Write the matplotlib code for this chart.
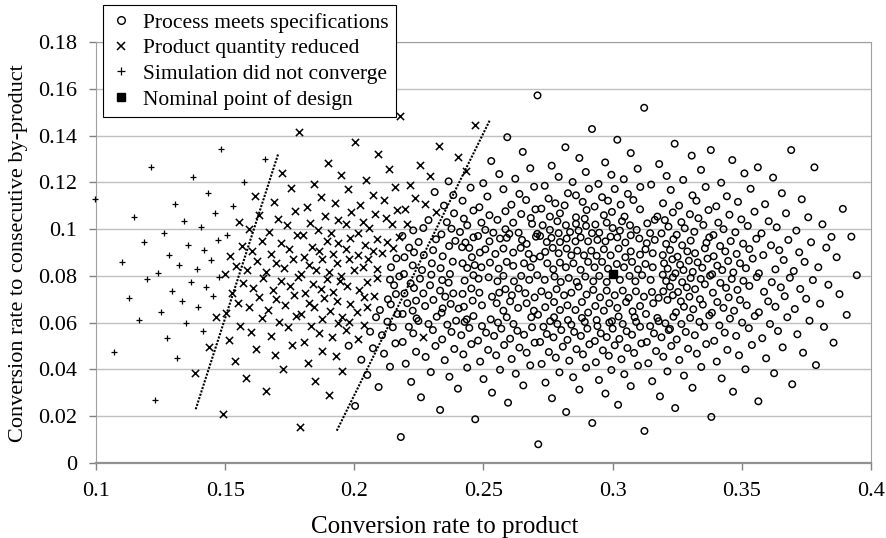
import matplotlib
matplotlib.use("Agg")
import matplotlib.pyplot as plt
from matplotlib.lines import Line2D
from matplotlib.ticker import FuncFormatter, MultipleLocator

# points, (conversion to product, conversion to by-product)
meets_spec = [
    (0.2709, 0.1573), (0.3122, 0.1520), (0.2920, 0.1429), (0.2592, 0.1394), (0.3018, 0.1383), (0.2817, 0.1351),
    (0.2652, 0.1331), (0.3070, 0.1326), (0.2871, 0.1305), (0.2530, 0.1292), (0.2971, 0.1286), (0.3180, 0.1279),
    (0.2764, 0.1272), (0.2681, 0.1261), (0.2896, 0.1245), (0.2561, 0.1236), (0.3097, 0.1259), (0.2791, 0.1224),
    (0.2995, 0.1233), (0.3209, 0.1228), (0.2623, 0.1216), (0.3043, 0.1214), (0.2845, 0.1202), (0.2499, 0.1197),
    (0.2696, 0.1182), (0.2737, 0.1186), (0.2945, 0.1194), (0.3149, 0.1191), (0.2450, 0.1178), (0.3107, 0.1181),
    (0.2908, 0.1173), (0.2577, 0.1171), (0.3008, 0.1172), (0.2365, 0.1205),
    (0.3240, 0.1366), (0.3380, 0.1339), (0.3691, 0.1339), (0.3306, 0.1315), (0.3463, 0.1296), (0.3342, 0.1254),
    (0.3781, 0.1265), (0.3562, 0.1265), (0.3510, 0.1239), (0.3273, 0.1211), (0.3621, 0.1221), (0.3420, 0.1199),
    (0.3360, 0.1181), (0.3534, 0.1173), (0.3225, 0.1168),
    (0.3891, 0.1087), (0.3732, 0.1128), (0.3655, 0.1154), (0.3309, 0.1145), (0.3324, 0.1122), (0.3442, 0.1141),
    (0.3485, 0.1117), (0.3590, 0.1107), (0.3195, 0.1111), (0.3257, 0.1101), (0.3371, 0.1082), (0.3671, 0.1068),
    (0.3757, 0.1051), (0.3812, 0.1021), (0.3924, 0.0968), (0.3847, 0.0967), (0.3549, 0.1075), (0.3452, 0.1062),
    (0.3401, 0.1098), (0.3233, 0.1072), (0.3299, 0.1064), (0.3332, 0.1047), (0.3498, 0.1042), (0.3604, 0.1034),
    (0.3202, 0.1039), (0.3266, 0.1030), (0.3351, 0.1018), (0.3409, 0.1028), (0.3523, 0.1014), (0.3635, 0.1008),
    (0.3711, 0.0994), (0.3216, 0.1011), (0.3279, 0.1004), (0.3429, 0.1000), (0.3316, 0.0989), (0.3475, 0.0987),
    (0.3576, 0.0982), (0.3189, 0.0982), (0.3248, 0.0976), (0.3374, 0.0965), (0.3390, 0.0975), (0.3556, 0.0959),
    (0.3680, 0.0954), (0.3768, 0.0944), (0.3235, 0.0957), (0.3302, 0.0951), (0.3457, 0.0949), (0.3363, 0.0942),
    (0.3505, 0.0938), (0.3207, 0.0937), (0.3269, 0.0931), (0.3416, 0.0928), (0.3613, 0.0931), (0.3827, 0.0921),
    (0.3357, 0.0918), (0.3529, 0.0915), (0.3645, 0.0910), (0.3222, 0.0911), (0.3289, 0.0905), (0.3436, 0.0905),
    (0.3722, 0.0901), (0.3319, 0.0897), (0.3480, 0.0894), (0.3583, 0.0889), (0.3194, 0.0889), (0.3251, 0.0882),
    (0.3391, 0.0884), (0.3867, 0.0880), (0.3367, 0.0874), (0.3542, 0.0874), (0.3662, 0.0868), (0.3743, 0.0860),
    (0.3231, 0.0871), (0.3295, 0.0865), (0.3447, 0.0864), (0.3329, 0.0858), (0.3493, 0.0854), (0.3199, 0.0854),
    (0.3261, 0.0848), (0.3347, 0.0835), (0.3405, 0.0844), (0.3516, 0.0833), (0.3630, 0.0828), (0.3796, 0.0837),
    (0.3701, 0.0821), (0.3213, 0.0831), (0.3274, 0.0825), (0.3310, 0.0817), (0.3424, 0.0825), (0.3467, 0.0815),
    (0.3243, 0.0811), (0.3377, 0.0801), (0.3385, 0.0807), (0.3566, 0.0811), (0.3945, 0.0803), (0.3194, 0.0805),
    (0.3341, 0.0787), (0.3461, 0.0787), (0.3558, 0.0795), (0.3686, 0.0792), (0.3775, 0.0782), (0.3233, 0.0794),
    (0.3302, 0.0791), (0.3207, 0.0778), (0.3269, 0.0773), (0.3417, 0.0770), (0.3506, 0.0779), (0.3616, 0.0773),
    (0.3835, 0.0762), (0.3357, 0.0764), (0.3439, 0.0749), (0.3529, 0.0757), (0.3651, 0.0751), (0.3726, 0.0744),
    (0.3222, 0.0754), (0.3287, 0.0751), (0.3319, 0.0743), (0.3483, 0.0740), (0.3878, 0.0722), (0.3196, 0.0734),
    (0.3253, 0.0731), (0.3388, 0.0728), (0.3586, 0.0732), (0.3666, 0.0713), (0.3749, 0.0702), (0.3297, 0.0711),
    (0.3449, 0.0708), (0.3493, 0.0697), (0.3233, 0.0717), (0.3338, 0.0700), (0.3212, 0.0697), (0.3264, 0.0691),
    (0.3405, 0.0688), (0.3602, 0.0691), (0.3803, 0.0681), (0.3349, 0.0677), (0.3519, 0.0674), (0.3630, 0.0668),
    (0.3705, 0.0658), (0.3276, 0.0668), (0.3429, 0.0663), (0.3312, 0.0657), (0.3470, 0.0651), (0.3566, 0.0644),
    (0.3245, 0.0644), (0.3384, 0.0642), (0.3374, 0.0631), (0.3676, 0.0623), (0.3906, 0.0633), (0.3235, 0.0625),
    (0.3300, 0.0620), (0.3454, 0.0617), (0.3550, 0.0628), (0.3762, 0.0608), (0.3336, 0.0603), (0.3204, 0.0597),
    (0.3266, 0.0594), (0.3413, 0.0588), (0.3501, 0.0600), (0.3609, 0.0594), (0.3818, 0.0582), (0.3354, 0.0582),
    (0.3527, 0.0576), (0.3222, 0.0573),
    (0.3217, 0.0568), (0.3283, 0.0560), (0.3318, 0.0546), (0.3434, 0.0557), (0.3640, 0.0564), (0.3189, 0.0537),
    (0.3248, 0.0528), (0.3393, 0.0522), (0.3362, 0.0508), (0.3478, 0.0543), (0.3579, 0.0533), (0.3715, 0.0550),
    (0.3855, 0.0514), (0.3227, 0.0500), (0.3292, 0.0488), (0.3326, 0.0467), (0.3444, 0.0483), (0.3539, 0.0504),
    (0.3658, 0.0494), (0.3489, 0.0460), (0.3196, 0.0454), (0.3258, 0.0440), (0.3403, 0.0433), (0.3594, 0.0447),
    (0.3737, 0.0471), (0.3343, 0.0410), (0.3212, 0.0391), (0.3514, 0.0400), (0.3787, 0.0418), (0.3276, 0.0373),
    (0.3625, 0.0383), (0.3422, 0.0361), (0.3695, 0.0336), (0.3309, 0.0321), (0.3466, 0.0304), (0.3183, 0.0284),
    (0.3564, 0.0263), (0.3242, 0.0234), (0.3382, 0.0196),
    (0.2468, 0.0186), (0.2712, 0.0079), (0.2820, 0.0217), (0.2921, 0.0170), (0.3123, 0.0136), (0.2595, 0.0257),
    (0.3021, 0.0248), (0.2533, 0.0300), (0.2765, 0.0276), (0.2972, 0.0296), (0.2654, 0.0331), (0.2871, 0.0313),
    (0.3070, 0.0328), (0.2740, 0.0343), (0.2500, 0.0358), (0.2947, 0.0354), (0.3153, 0.0349), (0.2847, 0.0366),
    (0.3045, 0.0379), (0.2625, 0.0381), (0.2794, 0.0387), (0.2564, 0.0398), (0.2995, 0.0397), (0.2437, 0.0407),
    (0.2897, 0.0407), (0.2681, 0.0417), (0.2725, 0.0423), (0.3098, 0.0416), (0.3138, 0.0426), (0.2487, 0.0433),
    (0.2609, 0.0444), (0.2832, 0.0437), (0.2935, 0.0430), (0.3034, 0.0443), (0.2422, 0.0464), (0.2549, 0.0460),
    (0.2667, 0.0471), (0.2753, 0.0474), (0.2780, 0.0450), (0.2885, 0.0464), (0.2985, 0.0458), (0.3083, 0.0470),
    (0.3168, 0.0478), (0.2453, 0.0508), (0.2518, 0.0483), (0.2580, 0.0504), (0.2639, 0.0493), (0.2698, 0.0514),
    (0.2719, 0.0517), (0.2807, 0.0497), (0.2860, 0.0486), (0.2910, 0.0507), (0.2931, 0.0521), (0.2962, 0.0481),
    (0.3008, 0.0503), (0.3057, 0.0491), (0.3111, 0.0511), (0.3132, 0.0517), (0.2479, 0.0523), (0.2603, 0.0531),
    (0.2825, 0.0526), (0.3026, 0.0530), (0.2414, 0.0546), (0.2541, 0.0543), (0.2657, 0.0548), (0.2771, 0.0537),
    (0.2877, 0.0543), (0.2977, 0.0538), (0.3075, 0.0548), (0.2510, 0.0557), (0.2631, 0.0565), (0.2745, 0.0551),
    (0.2851, 0.0560), (0.2954, 0.0554), (0.3054, 0.0563), (0.3160, 0.0554), (0.2445, 0.0577), (0.2494, 0.0585),
    (0.2569, 0.0574), (0.2688, 0.0580), (0.2732, 0.0582), (0.2801, 0.0568), (0.2902, 0.0574), (0.2941, 0.0585),
    (0.3000, 0.0574), (0.3106, 0.0582), (0.3145, 0.0585), (0.2427, 0.0603), (0.2556, 0.0600), (0.2616, 0.0594),
    (0.2758, 0.0606), (0.2786, 0.0594), (0.2840, 0.0591), (0.2892, 0.0603), (0.2987, 0.0600), (0.3039, 0.0594),
    (0.3091, 0.0603), (0.3178, 0.0606),
    (0.2180, 0.0110), (0.2003, 0.0243), (0.2332, 0.0226), (0.2094, 0.0324), (0.2258, 0.0280), (0.2401, 0.0317),
    (0.2050, 0.0376), (0.2220, 0.0346), (0.2368, 0.0368), (0.2138, 0.0411), (0.2296, 0.0388), (0.2199, 0.0424),
    (0.2350, 0.0439), (0.2027, 0.0441), (0.2115, 0.0467), (0.2239, 0.0475), (0.2276, 0.0453), (0.2387, 0.0487),
    (0.1978, 0.0501), (0.2072, 0.0490), (0.2159, 0.0511), (0.2187, 0.0517), (0.2314, 0.0500), (0.2228, 0.0554),
    (0.2107, 0.0546), (0.2061, 0.0561), (0.2340, 0.0528), (0.2304, 0.0568), (0.2376, 0.0560), (0.2149, 0.0580),
    (0.2211, 0.0582), (0.2287, 0.0594), (0.2360, 0.0591), (0.2128, 0.0604), (0.2248, 0.0607), (0.2394, 0.0608),
    (0.2311, 0.1159), (0.2383, 0.1146), (0.2347, 0.1101), (0.2386, 0.1068), (0.2287, 0.1039), (0.2358, 0.1030),
    (0.2376, 0.1002), (0.2228, 0.0995), (0.2267, 0.1005), (0.2186, 0.0971), (0.2337, 0.0978), (0.2316, 0.0957),
    (0.2249, 0.0945), (0.2391, 0.0950), (0.2367, 0.0928), (0.2212, 0.0921), (0.2231, 0.0901), (0.2305, 0.0910),
    (0.2269, 0.0889), (0.2342, 0.0884), (0.2163, 0.0875), (0.2194, 0.0880), (0.2381, 0.0861), (0.2300, 0.0854),
    (0.2142, 0.0837), (0.2226, 0.0845), (0.2262, 0.0825), (0.2334, 0.0833), (0.2192, 0.0808), (0.2370, 0.0808),
    (0.2174, 0.0798), (0.2298, 0.0805), (0.2138, 0.0784), (0.2254, 0.0788), (0.2340, 0.0782), (0.2218, 0.0768),
    (0.2154, 0.0760), (0.2293, 0.0760), (0.2365, 0.0771), (0.2231, 0.0748), (0.2332, 0.0737), (0.2194, 0.0725),
    (0.2267, 0.0725), (0.2383, 0.0725), (0.2161, 0.0722), (0.2352, 0.0711), (0.2130, 0.0700), (0.2239, 0.0694),
    (0.2306, 0.0697), (0.2205, 0.0683), (0.2373, 0.0680), (0.2099, 0.0654), (0.2274, 0.0671), (0.2342, 0.0661),
    (0.2141, 0.0678), (0.2404, 0.0660), (0.2167, 0.0637), (0.2187, 0.0637), (0.2226, 0.0651), (0.2319, 0.0625),
    (0.2338, 0.0642), (0.2241, 0.0618), (0.2084, 0.0623),
    (0.2639, 0.1151), (0.2419, 0.1122), (0.2515, 0.1140), (0.2608, 0.1105), (0.2665, 0.1125), (0.2752, 0.1131),
    (0.2778, 0.1111), (0.2827, 0.1154), (0.2858, 0.1145), (0.2884, 0.1117), (0.2959, 0.1137), (0.2982, 0.1122),
    (0.3031, 0.1105), (0.3059, 0.1151), (0.3080, 0.1125), (0.2484, 0.1094),
    (0.2461, 0.1080), (0.2585, 0.1077), (0.2646, 0.1065), (0.2701, 0.1085), (0.2724, 0.1088), (0.2757, 0.1054),
    (0.2796, 0.1068), (0.2814, 0.1102), (0.2899, 0.1082), (0.2930, 0.1097), (0.2966, 0.1060), (0.2997, 0.1074),
    (0.3046, 0.1054), (0.3173, 0.1054), (0.2424, 0.1045), (0.2523, 0.1060), (0.2554, 0.1040), (0.2683, 0.1048),
    (0.2858, 0.1051), (0.2892, 0.1045), (0.3106, 0.1085),
    (0.2437, 0.1017), (0.2492, 0.1028), (0.2585, 0.1000), (0.2615, 0.1028), (0.2688, 0.1023), (0.2729, 0.1017),
    (0.2786, 0.1034), (0.2819, 0.1017), (0.2858, 0.1023), (0.2897, 0.1014), (0.2933, 0.1020), (0.2977, 0.1028),
    (0.3000, 0.1005), (0.3036, 0.1034), (0.3067, 0.1017), (0.3134, 0.1025), (0.3163, 0.1040), (0.2409, 0.0988),
    (0.2507, 0.0997), (0.2538, 0.0985), (0.2636, 0.0985), (0.2708, 0.0980), (0.2757, 0.0997), (0.2791, 0.0983),
    (0.2835, 0.0988), (0.2868, 0.0994), (0.2920, 0.0983), (0.2948, 0.0985), (0.3028, 0.0994), (0.3093, 0.0997),
    (0.3145, 0.0983),
    (0.2430, 0.0943), (0.2461, 0.0965), (0.2479, 0.0971), (0.2523, 0.0948), (0.2564, 0.0960), (0.2590, 0.0963),
    (0.2600, 0.0980), (0.2649, 0.0954), (0.2667, 0.0937), (0.2703, 0.0968), (0.2719, 0.0971), (0.2745, 0.0945),
    (0.2763, 0.0963), (0.2796, 0.0945), (0.2822, 0.0960), (0.2856, 0.0948), (0.2876, 0.0965), (0.2905, 0.0948),
    (0.2941, 0.0954), (0.2972, 0.0948), (0.2992, 0.0968), (0.3018, 0.0965), (0.3049, 0.0943), (0.3070, 0.0974),
    (0.3103, 0.0960), (0.3132, 0.0940), (0.3163, 0.0954),
    (0.2417, 0.0923), (0.2445, 0.0920), (0.2455, 0.0880), (0.2486, 0.0900), (0.2507, 0.0914), (0.2546, 0.0894),
    (0.2577, 0.0917), (0.2615, 0.0900), (0.2644, 0.0920), (0.2675, 0.0894), (0.2693, 0.0874), (0.2719, 0.0883),
    (0.2739, 0.0903), (0.2768, 0.0920), (0.2791, 0.0897), (0.2822, 0.0917), (0.2840, 0.0888), (0.2863, 0.0908),
    (0.2889, 0.0888), (0.2917, 0.0908), (0.2938, 0.0886), (0.2966, 0.0914), (0.2992, 0.0888), (0.3023, 0.0917),
    (0.3049, 0.0880), (0.3070, 0.0905), (0.3106, 0.0891), (0.3127, 0.0914), (0.3155, 0.0897),
    (0.2419, 0.0854), (0.2437, 0.0834), (0.2466, 0.0846), (0.2492, 0.0837), (0.2525, 0.0857), (0.2559, 0.0831),
    (0.2590, 0.0860), (0.2615, 0.0843), (0.2657, 0.0854), (0.2683, 0.0837), (0.2747, 0.0854), (0.2770, 0.0828),
    (0.2796, 0.0857), (0.2819, 0.0837), (0.2848, 0.0854), (0.2876, 0.0826), (0.2905, 0.0860), (0.2930, 0.0837),
    (0.2959, 0.0860), (0.2982, 0.0831), (0.3016, 0.0851), (0.3044, 0.0837), (0.3075, 0.0860), (0.3098, 0.0828),
    (0.3127, 0.0851), (0.3155, 0.0837),
    (0.2427, 0.0780), (0.2461, 0.0803), (0.2481, 0.0788), (0.2520, 0.0794), (0.2554, 0.0777), (0.2577, 0.0800),
    (0.2618, 0.0777), (0.2646, 0.0800), (0.2677, 0.0783), (0.2708, 0.0803), (0.2737, 0.0783), (0.2775, 0.0797),
    (0.2799, 0.0774), (0.2830, 0.0791), (0.2861, 0.0774), (0.2894, 0.0797), (0.2925, 0.0777), (0.2948, 0.0800),
    (0.2977, 0.0774), (0.3028, 0.0783), (0.3065, 0.0800), (0.3088, 0.0777), (0.3114, 0.0803), (0.3147, 0.0783),
    (0.2419, 0.0723), (0.2453, 0.0746), (0.2484, 0.0728), (0.2533, 0.0711), (0.2561, 0.0728), (0.2585, 0.0743),
    (0.2610, 0.0717), (0.2636, 0.0746), (0.2662, 0.0726), (0.2698, 0.0708), (0.2724, 0.0734), (0.2752, 0.0717),
    (0.2783, 0.0743), (0.2812, 0.0717), (0.2840, 0.0728), (0.2868, 0.0754), (0.2899, 0.0720), (0.2925, 0.0740),
    (0.2951, 0.0708), (0.2977, 0.0737), (0.3008, 0.0717), (0.3039, 0.0737), (0.3062, 0.0706), (0.3090, 0.0734),
    (0.3121, 0.0711), (0.3152, 0.0731), (0.3178, 0.0706),
    (0.2424, 0.0668), (0.2458, 0.0694), (0.2494, 0.0674), (0.2551, 0.0683), (0.2577, 0.0651), (0.2603, 0.0691),
    (0.2634, 0.0663), (0.2667, 0.0683), (0.2695, 0.0651), (0.2739, 0.0666), (0.2773, 0.0688), (0.2796, 0.0654),
    (0.2825, 0.0674), (0.2856, 0.0654), (0.2881, 0.0688), (0.2905, 0.0643), (0.2933, 0.0671), (0.2966, 0.0651),
    (0.2987, 0.0683), (0.3018, 0.0663), (0.3052, 0.0688), (0.3077, 0.0648), (0.3106, 0.0671), (0.3129, 0.0637),
    (0.3157, 0.0683),
    (0.2435, 0.0614), (0.2461, 0.0628), (0.2528, 0.0614), (0.2590, 0.0623), (0.2685, 0.0623), (0.2711, 0.0634),
    (0.2773, 0.0623), (0.2827, 0.0611), (0.2881, 0.0620), (0.2938, 0.0611), (0.2997, 0.0606), (0.3023, 0.0626),
    (0.3085, 0.0623), (0.3173, 0.0620),
]

qty_reduced = [
    (0.2177, 0.1486), (0.1786, 0.1415), (0.2002, 0.1375), (0.2329, 0.1358), (0.2092, 0.1321), (0.1899, 0.1284),
    (0.1721, 0.1242), (0.2134, 0.1256), (0.2256, 0.1276), (0.2401, 0.1308), (0.2432, 0.1248), (0.1950, 0.1232),
    (0.2293, 0.1227), (0.2046, 0.1211), (0.1844, 0.1194), (0.2217, 0.1191), (0.1754, 0.1176), (0.2156, 0.1179),
    (0.1977, 0.1171), (0.2466, 0.1445),
    (0.1872, 0.1137), (0.1689, 0.1118), (0.2071, 0.1148), (0.2115, 0.1125), (0.2236, 0.1134), (0.1926, 0.1114),
    (0.2274, 0.1109), (0.1816, 0.1094), (0.2022, 0.1102), (0.1772, 0.1078), (0.1987, 0.1075), (0.2167, 0.1084),
    (0.2198, 0.1088), (0.2081, 0.1065), (0.2317, 0.1072), (0.1887, 0.1058), (0.1706, 0.1045), (0.1938, 0.1041),
    (0.2123, 0.1049), (0.2035, 0.1032), (0.1738, 0.1017), (0.1830, 0.1025), (0.2146, 0.1021), (0.2203, 0.1024),
    (0.1969, 0.1021), (0.2058, 0.1004), (0.1860, 0.0997), (0.1671, 0.0988), (0.1909, 0.0982), (0.2013, 0.0982),
    (0.1778, 0.0974), (0.1800, 0.0975), (0.1985, 0.0961), (0.2172, 0.0965), (0.2087, 0.0957), (0.1643, 0.0951),
    (0.1893, 0.0948), (0.1938, 0.0942), (0.1715, 0.0941), (0.2127, 0.0945), (0.1748, 0.0916), (0.1837, 0.0925),
    (0.2043, 0.0931), (0.1864, 0.0905), (0.1968, 0.0914), (0.2151, 0.0919), (0.2073, 0.0905), (0.2108, 0.0899),
    (0.1677, 0.0895), (0.1919, 0.0894), (0.2013, 0.0889), (0.1806, 0.0882), (0.1763, 0.0874), (0.1981, 0.0871),
    (0.2054, 0.0874), (0.1875, 0.0871), (0.1697, 0.0857), (0.1823, 0.0845), (0.1934, 0.0854), (0.2034, 0.0837),
    (0.2087, 0.0831), (0.1729, 0.0834), (0.1853, 0.0825), (0.1903, 0.0817), (0.1659, 0.0817), (0.1999, 0.0825),
    (0.1793, 0.0807), (0.1949, 0.0801), (0.1648, 0.0791), (0.2089, 0.0791), (0.1781, 0.0797), (0.1893, 0.0785),
    (0.1717, 0.0779), (0.2050, 0.0773), (0.1841, 0.0764), (0.1751, 0.0757), (0.1973, 0.0757), (0.1945, 0.0779),
    (0.1870, 0.0745), (0.2017, 0.0740), (0.1684, 0.0740), (0.1810, 0.0725), (0.1919, 0.0731), (0.2075, 0.0714),
    (0.1767, 0.0717), (0.2039, 0.0708), (0.1697, 0.0700), (0.1883, 0.0704), (0.1825, 0.0683), (0.1934, 0.0694),
    (0.1985, 0.0680), (0.1732, 0.0674), (0.1845, 0.0668), (0.2050, 0.0666), (0.1907, 0.0650), (0.1666, 0.0654),
    (0.2009, 0.0645), (0.1774, 0.0628), (0.1795, 0.0637), (0.1952, 0.0625), (0.1641, 0.0620), (0.1876, 0.0617),
    (0.1710, 0.0603), (0.1980, 0.0603), (0.1832, 0.0585), (0.2037, 0.0591), (0.1744, 0.0580),
    (0.1862, 0.0554), (0.1937, 0.0597), (0.1968, 0.0568), (0.1676, 0.0544), (0.1759, 0.0505), (0.1804, 0.0518),
    (0.1915, 0.0538), (0.2014, 0.0528), (0.1875, 0.0480), (0.1694, 0.0463), (0.1929, 0.0456), (0.1820, 0.0427),
    (0.1725, 0.0403), (0.1954, 0.0394), (0.1848, 0.0351), (0.1657, 0.0308), (0.1902, 0.0290), (0.1789, 0.0154),
    (0.2267, 0.0537),
    (0.1439, 0.0494), (0.1382, 0.0383), (0.1515, 0.0524), (0.1537, 0.0434), (0.1559, 0.0587), (0.1600, 0.0558),
    (0.1619, 0.0486), (0.1580, 0.0363), (0.1490, 0.0209),
    (0.1616, 0.1142), (0.1632, 0.1062), (0.1552, 0.1030), (0.1593, 0.1001), (0.1564, 0.0928), (0.1605, 0.0907),
    (0.1520, 0.0885), (0.1625, 0.0865), (0.1542, 0.0844), (0.1584, 0.0825), (0.1498, 0.0808), (0.1569, 0.0770),
    (0.1609, 0.0749), (0.1527, 0.0725), (0.1630, 0.0708), (0.1549, 0.0685), (0.1591, 0.0666), (0.1503, 0.0640),
    (0.1466, 0.0624),
]

not_converged = [
    (0.1213, 0.1268), (0.1374, 0.1222), (0.1485, 0.1345), (0.1574, 0.1203), (0.1653, 0.1302), (0.0995, 0.1129),
    (0.1148, 0.1054), (0.1306, 0.1108), (0.1434, 0.1154), (0.1459, 0.1068), (0.1530, 0.1099), (0.1341, 0.1036),
    (0.1263, 0.0982), (0.1405, 0.1008), (0.1508, 0.0975), (0.1472, 0.0954), (0.1185, 0.0945), (0.1357, 0.0934),
    (0.1418, 0.0911), (0.1284, 0.0888), (0.1446, 0.0868), (0.1102, 0.0860), (0.1322, 0.0848), (0.1390, 0.0828),
    (0.1239, 0.0814), (0.1477, 0.0794), (0.1199, 0.0785), (0.1367, 0.0774), (0.1426, 0.0754), (0.1294, 0.0737),
    (0.1452, 0.0714), (0.1128, 0.0704), (0.1333, 0.0694), (0.1396, 0.0668), (0.1253, 0.0645), (0.1166, 0.0610),
    (0.1350, 0.0597), (0.1413, 0.0565), (0.1071, 0.0473), (0.1274, 0.0534), (0.1314, 0.0448), (0.1228, 0.0269),
]

nominal = [(0.300, 0.0806)]

# dotted boundary lines (end points)
bound_left = [(0.1386, 0.0229), (0.1706, 0.1325)]
bound_right = [(0.1932, 0.0137), (0.2525, 0.1468)]

labels = ['Process meets specifications', 'Product quantity reduced',
          'Simulation did not converge', 'Nominal point of design']

plt.rcParams['font.family'] = ['Liberation Serif', 'DejaVu Serif']

fig = plt.figure(figsize=(8.87, 5.38), dpi=100)
ax = fig.add_axes([96 / 887, 1 - 462.7 / 538, 775 / 887, 420.3 / 538])


def xy(points):
    return [p[0] for p in points], [p[1] for p in points]


mx, my = xy(meets_spec)
ax.scatter(mx, my, s=22, facecolors='none', edgecolors='black', linewidths=1.05, zorder=3)
rx, ry = xy(qty_reduced)
ax.scatter(rx, ry, s=27, c='black', marker='x', linewidths=1.1, zorder=3)
px, py = xy(not_converged)
ax.scatter(px, py, s=24, c='black', marker='+', linewidths=0.9, zorder=3, clip_on=False)
nx, ny = xy(nominal)
ax.scatter(nx, ny, s=32, c='black', marker='s', zorder=4)

for line in (bound_left, bound_right):
    lx, ly = xy(line)
    ax.plot(lx, ly, color='black', lw=1.5, ls=(0, (1, 0.7)), zorder=2)

ax.set_xlim(0.1, 0.4)
ax.set_ylim(0, 0.18)
ax.xaxis.set_major_locator(MultipleLocator(0.05))
ax.yaxis.set_major_locator(MultipleLocator(0.02))
fmt = FuncFormatter(lambda v, _: f'{v:g}')
ax.xaxis.set_major_formatter(fmt)
ax.yaxis.set_major_formatter(fmt)
ax.tick_params(direction='out', length=5, width=1, color='#808080', labelsize=16)
ax.tick_params(axis='x', pad=9)
ax.tick_params(axis='y', pad=8.5)

ax.yaxis.grid(True, color='#c0c0c0', lw=1)
ax.set_axisbelow(True)
for side in ('left', 'right', 'top'):
    ax.spines[side].set_color('#a0a0a0')
ax.spines['bottom'].set_color('#909090')
ax.spines['bottom'].set_linewidth(1.6)

fig.text(445 / 887, 1 - 527 / 538, 'Conversion rate to product', ha='center', va='center', fontsize=18)
fig.text(19 / 887, 1 - 253 / 538, 'Conversion rate to consecutive by-product', ha='center', va='center',
         rotation=90, fontsize=16)

handles = [
    Line2D([], [], ls='none', marker='o', mfc='none', mec='black', ms=5.5, mew=1.0),
    Line2D([], [], ls='none', marker='x', color='black', ms=5.5, mew=1.1),
    Line2D([], [], ls='none', marker='+', color='black', ms=5.5, mew=0.9),
    Line2D([], [], ls='none', marker='s', color='black', ms=6),
]
leg = fig.legend(handles, labels, loc='upper left', bbox_to_anchor=(103 / 887, 1 - 5 / 538),
                 frameon=True, fancybox=False, edgecolor='black', framealpha=1, fontsize=15.5,
                 handlelength=1.0, handletextpad=0.5, borderpad=0.35, labelspacing=0.26, borderaxespad=0)
leg.get_frame().set_linewidth(0.8)

fig.savefig('out.png', dpi=100)
